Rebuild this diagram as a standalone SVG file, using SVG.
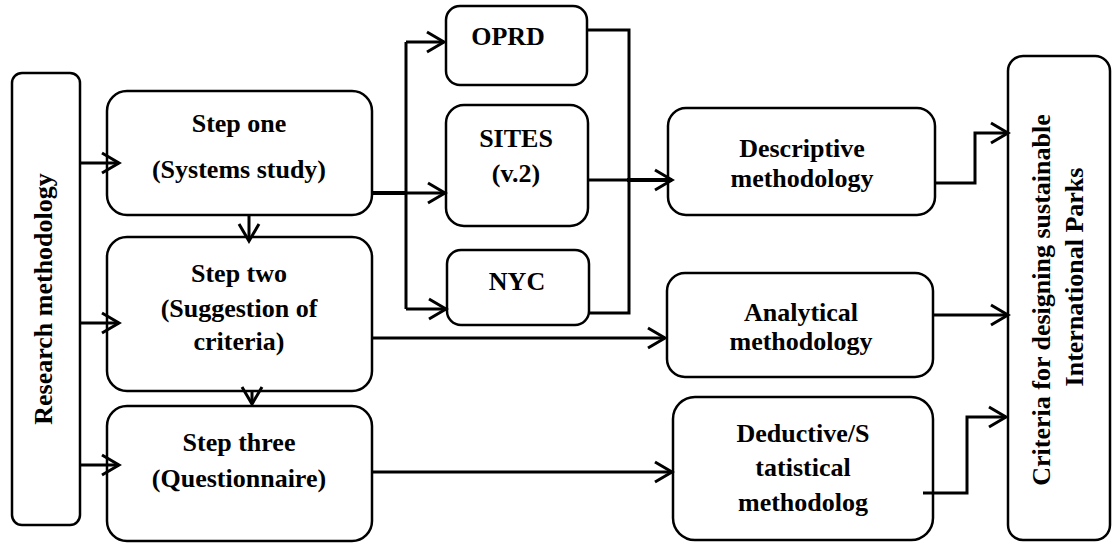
<svg xmlns="http://www.w3.org/2000/svg" width="1113" height="543" viewBox="0 0 1113 543">
<style>
.box{fill:#fff;stroke:#000;stroke-width:2.5}
.t{font-family:'Liberation Serif','DejaVu Serif',serif;font-weight:bold;font-size:26px;fill:#000;text-anchor:middle}
.c{fill:none;stroke:#000;stroke-width:3;stroke-linejoin:miter}
.thick{stroke-width:4}
</style>
<defs>
<marker id="arr" viewBox="-20 -12 24 24" refX="0" refY="0" markerWidth="24" markerHeight="24" markerUnits="userSpaceOnUse" orient="auto">
<path d="M-17,-10 L0,0 L-17,10" fill="none" stroke="#000" stroke-width="3"/>
</marker>
</defs>
<rect width="1113" height="543" fill="#fff"/>
<g id="research">
<rect class="box" x="12" y="73" width="68" height="452" rx="10"/>
<text class="t" transform="translate(52,299) rotate(-90)">Research methodology</text>
</g>
<g id="step1">
<rect class="box" x="107" y="91" width="265" height="124" rx="20"/>
<text class="t" x="239" y="132">Step one</text>
<text class="t" x="239" y="178">(Systems study)</text>
</g>
<g id="step2">
<rect class="box" x="107" y="237" width="265" height="154" rx="20"/>
<text class="t" x="239" y="282">Step two</text>
<text class="t" x="239" y="317">(Suggestion of</text>
<text class="t" x="239" y="350">criteria)</text>
</g>
<g id="step3">
<rect class="box" x="107" y="406" width="265" height="135" rx="20"/>
<text class="t" x="239" y="451">Step three</text>
<text class="t" x="239" y="487">(Questionnaire)</text>
</g>
<g id="oprd">
<rect class="box" x="446" y="6" width="141" height="79" rx="14"/>
<text class="t" x="508" y="45">OPRD</text>
</g>
<g id="sites">
<rect class="box" x="446" y="105" width="142" height="121" rx="18"/>
<text class="t" x="516" y="147">SITES</text>
<text class="t" x="516" y="182">(v.2)</text>
</g>
<g id="nyc">
<rect class="box" x="447" y="250" width="142" height="75" rx="14"/>
<text class="t" x="517" y="290">NYC</text>
</g>
<g id="descriptive">
<rect class="box" x="668" y="108" width="267" height="107" rx="18"/>
<text class="t" x="802" y="157">Descriptive</text>
<text class="t" x="802" y="187">methodology</text>
</g>
<g id="analytical">
<rect class="box" x="667" y="273" width="266" height="104" rx="18"/>
<text class="t" x="801" y="321">Analytical</text>
<text class="t" x="801" y="350">methodology</text>
</g>
<g id="deductive">
<rect class="box" x="673" y="397" width="260" height="143" rx="22"/>
<text class="t" x="803" y="442">Deductive/S</text>
<text class="t" x="803" y="476">tatistical</text>
<text class="t" x="803" y="511">methodolog</text>
</g>
<g id="criteria">
<rect class="box" x="1008" y="56" width="102" height="484" rx="15"/>
<text class="t" transform="translate(1050,300) rotate(-90)">Criteria for designing sustainable</text>
<text class="t" transform="translate(1083,277) rotate(-90)">International Parks</text>
</g>
<g id="connectors">
<path class="c" d="M80,163 H119" marker-end="url(#arr)"/>
<path class="c" d="M80,323 H119" marker-end="url(#arr)"/>
<path class="c" d="M80,465 H119" marker-end="url(#arr)"/>
<path class="c" d="M249,215 V241" marker-end="url(#arr)"/>
<path class="c" d="M252,391 V404" marker-end="url(#arr)"/>
<path class="c thick" d="M372,193 H406"/>
<path class="c" d="M406,42 V309"/>
<path class="c" d="M406,42 H444" marker-end="url(#arr)"/>
<path class="c" d="M406,193 H445" marker-end="url(#arr)"/>
<path class="c" d="M406,309 H446" marker-end="url(#arr)"/>
<path class="c" d="M587,30 H629 V313 H589"/>
<path class="c" d="M588,180 H629"/>
<path class="c thick" d="M627,180 H672" marker-end="url(#arr)"/>
<path class="c" d="M935,183 H975 V133 H1008" marker-end="url(#arr)"/>
<path class="c" d="M372,338 H665" marker-end="url(#arr)"/>
<path class="c" d="M933,315 H1008" marker-end="url(#arr)"/>
<path class="c" d="M372,472 H672" marker-end="url(#arr)"/>
<path class="c" d="M923,493 H967 V417 H1006" marker-end="url(#arr)"/>
</g>
</svg>
